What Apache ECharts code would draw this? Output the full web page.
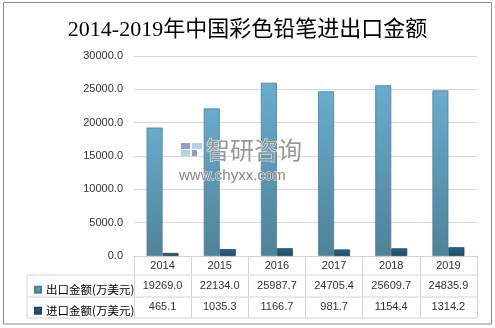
<!DOCTYPE html>
<html><head><meta charset="utf-8">
<script src="https://cdn.jsdelivr.net/npm/echarts@6/dist/echarts.min.js"></script>
<style>html,body{margin:0;padding:0;background:#fff}#c{width:495px;height:328px}</style>
</head><body><div id="c"></div>
<script>
const titleText = '2014-2019年中国彩色铅笔进出口金额';
const categories = ['2014','2015','2016','2017','2018','2019'];
const exportName = '出口金额(万美元)';
const importName = '进口金额(万美元)';
const exportValues = [19269.0, 22134.0, 25987.7, 24705.4, 25609.7, 24835.9];
const importValues = [465.1, 1035.3, 1166.7, 981.7, 1154.4, 1314.2];
const yTicks = {min: 0, max: 30000, interval: 5000};

const chart = echarts.init(document.getElementById('c'), null, {renderer: 'canvas'});
const lab = {color: '#333', fontSize: 11, fontFamily: 'Liberation Sans, Arial, sans-serif'};
const tableLine = '#d4d4d4';
const gL = 134, gR = 477, gT = 56, gB = 256;
const rows = [275, 297, 318];
const wm = {z: 100, zlevel: 1};

const option = {
  animation: false,
  title: {
    text: titleText, left: 'center', top: 14,
    textStyle: {fontFamily: "'Liberation Serif', 'Noto Sans CJK SC', serif", fontSize: 22, fontWeight: 'normal', color: '#000'}
  },
  legend: {
    orient: 'vertical', left: 29, top: 279, itemGap: 9.5,
    itemWidth: 6, itemHeight: 6, icon: 'rect',
    textStyle: {fontSize: 11.5, color: '#000', fontFamily: "'Noto Sans CJK SC', sans-serif"},
    data: [exportName, importName]
  },
  grid: {left: gL, right: 495 - gR, top: gT, bottom: 328 - gB},
  xAxis: [
    {
      type: 'category', data: categories, position: 'bottom',
      axisLine: {lineStyle: {color: tableLine}},
      axisTick: {show: true, length: rows[2] - gB, lineStyle: {color: tableLine}},
      axisLabel: Object.assign({margin: 4}, lab)
    },
    {
      type: 'category', data: exportValues.map(v => v.toFixed(1)), position: 'bottom', offset: 20,
      axisLine: {show: false}, axisTick: {show: false},
      axisLabel: Object.assign({margin: 4}, lab)
    },
    {
      type: 'category', data: importValues.map(v => v.toFixed(1)), position: 'bottom', offset: 41.5,
      axisLine: {show: false}, axisTick: {show: false},
      axisLabel: Object.assign({margin: 4}, lab)
    }
  ],
  yAxis: {
    type: 'value', min: yTicks.min, max: yTicks.max, interval: yTicks.interval,
    axisLine: {show: false}, axisTick: {show: false},
    splitLine: {lineStyle: {color: '#d9d9d9'}},
    axisLabel: Object.assign({margin: 11, formatter: v => v.toFixed(1)}, lab)
  },
  series: [
    {
      name: exportName, type: 'bar', data: exportValues, barWidth: 16, barGap: '0%',
      itemStyle: {
        color: new echarts.graphic.LinearGradient(0,0,0,1,[{offset:0,color:'#69acce'},{offset:1,color:'#4f8298'}]),
        borderColor: '#4d7f99', borderWidth: 0.8
      }
    },
    {
      name: importName, type: 'bar', data: importValues, barWidth: 16,
      itemStyle: {
        color: new echarts.graphic.LinearGradient(0,0,0,1,[{offset:0,color:'#2f6585'},{offset:1,color:'#1d4a66'}]),
        borderColor: '#1f4860', borderWidth: 0.8
      }
    }
  ],
  graphic: [
    {type: 'rect', shape: {x: 3.5, y: 2.5, width: 488, height: 321.5}, style: {fill: 'none', stroke: '#8c8c8c', lineWidth: 1}, silent: true},
    {type: 'line', shape: {x1: 27, y1: rows[0], x2: gR, y2: rows[0]}, style: {stroke: tableLine, lineWidth: 1}},
    {type: 'line', shape: {x1: 27, y1: rows[1], x2: gR, y2: rows[1]}, style: {stroke: tableLine, lineWidth: 1}},
    {type: 'line', shape: {x1: 27, y1: rows[2], x2: gR, y2: rows[2]}, style: {stroke: tableLine, lineWidth: 1}},
    {type: 'line', shape: {x1: 27, y1: rows[0], x2: 27, y2: rows[2]}, style: {stroke: tableLine, lineWidth: 1}},
    Object.assign({type: 'rect', shape: {x: 181, y: 143, width: 9, height: 6}, style: {fill: '#7b8fc2', opacity: 0.85}}, wm),
    Object.assign({type: 'rect', shape: {x: 181, y: 150, width: 9, height: 6}, style: {fill: '#a9c7ea', opacity: 0.85}}, wm),
    Object.assign({type: 'rect', shape: {x: 192, y: 143, width: 10, height: 6}, style: {fill: '#a9c7ea', opacity: 0.85}}, wm),
    Object.assign({type: 'rect', shape: {x: 192, y: 150, width: 5, height: 6}, style: {fill: '#7b8fc2', opacity: 0.85}}, wm),
    Object.assign({type: 'text', x: 206, y: 138, style: {text: '智研咨询', fontSize: 24, letterSpacing: 3, fontFamily: "'Noto Sans CJK SC', sans-serif", fill: '#8d8d8d', stroke: '#fff', lineWidth: 1, opacity: 0.9}}, wm),
    Object.assign({type: 'text', x: 179, y: 168, style: {text: 'www.chyxx.com', fontSize: 15, letterSpacing: 2.5, fontFamily: 'Liberation Sans, Arial, sans-serif', fill: '#7a7a7a', stroke: '#fff', lineWidth: 1, opacity: 0.9}}, wm)
  ]
};
chart.setOption(option);
</script></body></html>
